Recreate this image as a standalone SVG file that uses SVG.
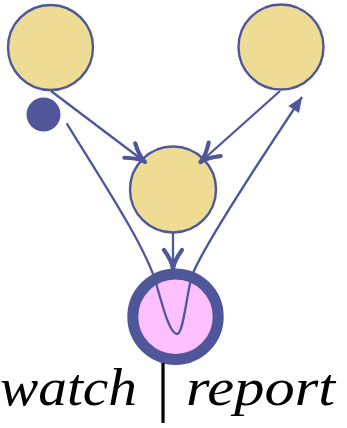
<svg xmlns="http://www.w3.org/2000/svg" width="347" height="428" viewBox="0 0 347 428">
  <style>
    .node { fill: #eedc95; stroke: #4f579a; stroke-width: 2.4; }
    .edge { fill: none; stroke: #4f579a; stroke-width: 2.3; }
    .label { font-family: "Liberation Serif", "DejaVu Serif", serif; font-style: italic; font-size: 53px; fill: #000; }
    .bar { font-family: "Liberation Serif", "DejaVu Serif", serif; font-size: 65px; fill: #000; }
  </style>
  <defs>
    <marker id="to" markerUnits="userSpaceOnUse" markerWidth="30" markerHeight="30" viewBox="-25 -15 30 30" refX="0" refY="0" orient="auto">
      <path d="M -19,-9 Q -8,-1 0,0 M -19,9 Q -8,1 0,0" fill="none" stroke="#4f579a" stroke-width="4.2" stroke-linecap="round"/>
    </marker>
    <marker id="latex" markerUnits="userSpaceOnUse" markerWidth="30" markerHeight="30" viewBox="-20 -15 30 30" refX="0" refY="0" orient="auto">
      <path d="M 0,0 L -15,-6.5 L -15,6.5 Z" fill="#4f579a"/>
    </marker>
  </defs>

  <g id="source-left">
    <circle class="node" cx="50.5" cy="47.5" r="42.5"/>
  </g>
  <g id="source-right">
    <circle class="node" cx="281" cy="47" r="42.5"/>
  </g>
  <g id="initial-dot">
    <circle cx="43.5" cy="114.5" r="17" fill="#4f579a"/>
  </g>
  <g id="merge">
    <circle class="node" cx="173" cy="189.5" r="43"/>
  </g>
  <g id="watch-report">
    <circle cx="175.5" cy="316.7" r="42.7" fill="#ffc0ff" stroke="#4f579a" stroke-width="11"/>
    <text class="label" x="0" y="405" textLength="137" lengthAdjust="spacingAndGlyphs">watch</text>
    <text class="bar" x="163" y="409" text-anchor="middle">|</text>
    <text class="label" x="186" y="405" textLength="149" lengthAdjust="spacingAndGlyphs">report</text>
  </g>

  <g id="connectors">
    <path class="edge" d="M 51,91 L 145,162" marker-end="url(#to)"/>
    <path class="edge" d="M 280,91 L 200.5,162" marker-end="url(#to)"/>
    <path class="edge" d="M 173,233 L 173,269" marker-end="url(#to)"/>
    <path class="edge" d="M 66.7,123.3 C 100,178 145,245 156,283 C 163,308 170,334 177,334 C 183,334 186,300 191,279 C 196,258 250,175 302,97" marker-end="url(#latex)"/>
  </g>
</svg>
